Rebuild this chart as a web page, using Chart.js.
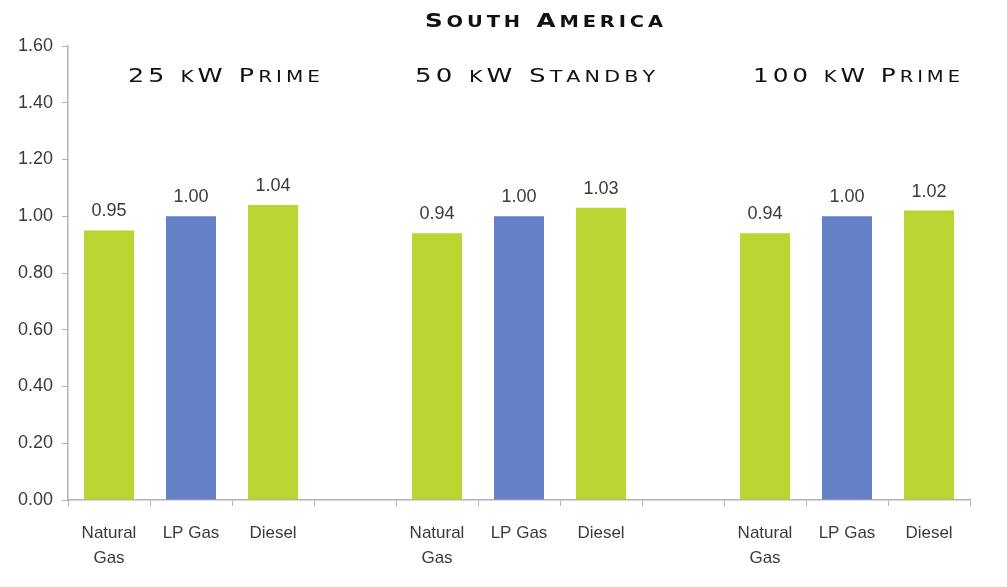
<!DOCTYPE html>
<html>
<head>
<meta charset="utf-8">
<script src="https://cdn.jsdelivr.net/npm/chart.js@4.4.1/dist/chart.umd.min.js"></script>
<style>
  html, body { margin: 0; padding: 0; background: #fff; }
  #wrap { width: 1007px; height: 587px; position: relative; }
</style>
</head>
<body>
<div id="wrap"><canvas id="costChart"></canvas></div>
<script>
// relative fuel cost by generator size, LP gas = 1.00
const chartTitle = 'South America';
const groupNames = ['25 kW Prime', '50 kW Standby', '100 kW Prime'];
const fuels = [['Natural', 'Gas'], 'LP Gas', 'Diesel'];
const fuelColors = ['#bad432', '#6580c7', '#bad432'];
const prime25 = [0.95, 1.00, 1.04];
const standby50 = [0.94, 1.00, 1.03];
const prime100 = [0.94, 1.00, 1.02];
const yTickLabels = ['0.00', '0.20', '0.40', '0.60', '0.80', '1.00', '1.20', '1.40', '1.60'];

// flatten the three groups into one category axis, with an empty slot between groups
const groupValues = [prime25, standby50, prime100];
const labels = [];
const values = [];
const colors = [];
groupValues.forEach((vals, g) => {
  vals.forEach((v, i) => {
    labels.push(fuels[i]);
    values.push(v);
    colors.push(fuelColors[i]);
  });
  if (g < groupValues.length - 1) {
    labels.push('');
    values.push(null);
    colors.push('rgba(0,0,0,0)');
  }
});

const axisGray = '#b2b2b2';
const textGray = '#3a3a3a';
const fontFamily = '"Liberation Sans", Arial, sans-serif';

// value printed above each bar
const valueLabels = {
  id: 'valueLabels',
  afterDatasetsDraw(chart) {
    const ctx = chart.ctx;
    const meta = chart.getDatasetMeta(0);
    const data = chart.data.datasets[0].data;
    ctx.save();
    ctx.font = '18px ' + fontFamily;
    ctx.fillStyle = textGray;
    ctx.textAlign = 'center';
    ctx.textBaseline = 'bottom';
    meta.data.forEach((bar, i) => {
      if (data[i] == null) return;
      ctx.fillText(data[i].toFixed(2), bar.x, bar.y - 10);
    });
    ctx.restore();
  }
};

// hand-made small caps: capitals at full size, lower case as smaller capitals,
// stretched sideways to the given width for an extended face
function drawSmallCaps(ctx, it) {
  const family = '"DejaVu Sans", sans-serif';
  const big = it.weight + ' ' + it.size + 'px ' + family;
  const small = it.weight + ' ' + Math.round(it.size * 0.8) + 'px ' + family;
  const parts = [...it.text].map(ch => {
    const lower = ch !== ch.toUpperCase();
    return { ch: ch.toUpperCase(), font: lower ? small : big };
  });
  let w = 0;
  parts.forEach(p => {
    ctx.font = p.font;
    p.w = ctx.measureText(p.ch).width;
    w += p.w + it.spacing;
  });
  w -= it.spacing;
  const sx = it.width / w;
  ctx.save();
  ctx.translate(it.x, it.y);
  ctx.scale(sx, 1);
  let x = 0;
  parts.forEach(p => {
    ctx.font = p.font;
    ctx.fillText(p.ch, x, 0);
    x += p.w + it.spacing;
  });
  ctx.restore();
}

const headerText = {
  id: 'headerText',
  afterDraw(chart, args, opts) {
    const ctx = chart.ctx;
    ctx.save();
    ctx.fillStyle = '#111';
    ctx.textBaseline = 'alphabetic';
    ctx.textAlign = 'left';
    opts.items.forEach(it => drawSmallCaps(ctx, it));
    ctx.restore();
  }
};

new Chart(document.getElementById('costChart'), {
  type: 'bar',
  data: {
    labels: labels,
    datasets: [{
      data: values,
      backgroundColor: colors,
      borderWidth: 0,
      categoryPercentage: 1,
      barPercentage: 0.61
    }]
  },
  plugins: [valueLabels, headerText],
  options: {
    responsive: true,
    maintainAspectRatio: false,
    animation: false,
    layout: { padding: { top: 46, right: 37, left: 0, bottom: 0 } },
    plugins: {
      legend: { display: false },
      tooltip: { enabled: false },
      headerText: {
        items: [
          { text: chartTitle, x: 425, y: 27, width: 238, size: 19, weight: 'bold', spacing: 3 },
          { text: groupNames[0], x: 128, y: 82, width: 192, size: 19, weight: 'normal', spacing: 3 },
          { text: groupNames[1], x: 415, y: 82, width: 240, size: 19, weight: 'normal', spacing: 3 },
          { text: groupNames[2], x: 753, y: 82, width: 207, size: 19, weight: 'normal', spacing: 3 }
        ]
      }
    },
    scales: {
      x: {
        grid: { offset: true, drawOnChartArea: false, color: axisGray, tickLength: 6 },
        border: { color: axisGray, width: 1.5 },
        ticks: {
          font: { family: fontFamily, size: 17, lineHeight: 1.45 },
          color: textGray,
          padding: 15,
          maxRotation: 0,
          autoSkip: false
        },
        afterFit(scale) { scale.height = 87; }
      },
      y: {
        min: 0,
        max: 1.6,
        grid: { drawOnChartArea: false, color: axisGray, tickLength: 6 },
        border: { color: axisGray, width: 1.5 },
        ticks: {
          stepSize: 0.2,
          font: { family: fontFamily, size: 18 },
          color: textGray,
          padding: 9,
          callback: (v, i) => yTickLabels[i]
        },
        afterFit(scale) { scale.width = 68; }
      }
    }
  }
});
</script>
</body>
</html>
